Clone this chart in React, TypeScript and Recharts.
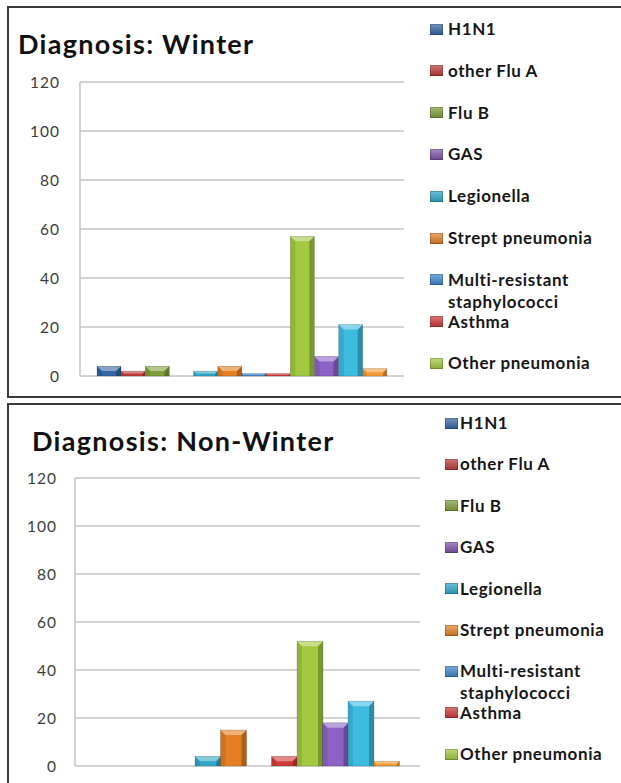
import { BarChart, Bar, Cell, XAxis, YAxis, CartesianGrid } from "recharts"

const FONT = "Lato, 'Open Sans', sans-serif"

// legend shows only the first nine diagnoses, the chart has twelve bar slots
const legendNames = [
  "H1N1",
  "other Flu A",
  "Flu B",
  "GAS",
  "Legionella",
  "Strept pneumonia",
  "Multi-resistant staphylococci",
  "Asthma",
  "Other pneumonia",
]
const slots = [1, 2, 3, 4, 5, 6, 7, 8, 9, 10, 11, 12]
const barColors = [
  "#3465a4",
  "#be3a36",
  "#7f9e3b",
  "#7d55a8",
  "#2fa6c8",
  "#e47f24",
  "#3f86cf",
  "#cf3a38",
  "#a3c940",
  "#8d62c6",
  "#3dbbe0",
  "#f39a32",
]
const winterCases = [4, 2, 4, 0, 2, 4, 1, 1, 57, 8, 21, 3]
const nonWinterCases = [0, 0, 0, 0, 4, 15, 0, 4, 52, 18, 27, 2]
const yTicks = [0, 20, 40, 60, 80, 100, 120]

function BevelBar(props: any) {
  const { x, y, width, height, fill } = props
  if (!height || height <= 0) return null
  const b = Math.min(5, height / 2, width / 4)
  const r = x + width
  const bt = y + height
  return (
    <g>
      <rect x={x} y={y} width={width} height={height} fill={fill} />
      <polygon points={`${x},${y} ${x + b},${y + b} ${x + b},${bt} ${x},${bt}`} fill="#000" fillOpacity={0.1} />
      <polygon points={`${r},${y} ${r - b},${y + b} ${r - b},${bt} ${r},${bt}`} fill="#000" fillOpacity={0.25} />
      <polygon points={`${x},${y} ${r},${y} ${r - b},${y + b} ${x + b},${y + b}`} fill="#fff" fillOpacity={0.4} />
      <rect x={x} y={y} width={width} height={height} fill="none" stroke="#000" strokeOpacity={0.25} strokeWidth={0.6} />
    </g>
  )
}

function LegendList({ squareLeft, textLeft, firstY, step }: any) {
  return (
    <>
      {legendNames.map((name, i) => (
        <div key={name} style={{ position: "absolute", left: squareLeft, top: firstY + i * step - 11, display: "flex" }}>
          <span
            style={{
              width: 13,
              height: 11,
              marginTop: 5.5,
              background: `linear-gradient(180deg, rgba(255,255,255,0.3), rgba(0,0,0,0.15)), ${barColors[i]}`,
              boxShadow: "inset 0 0 0 1px rgba(0,0,0,0.2)",
            }}
          />
          <span
            style={{
              marginLeft: textLeft - squareLeft - 13,
              width: 162,
              lineHeight: "22px",
              fontSize: 17,
              fontWeight: 700,
              letterSpacing: 0.6,
              color: "#161616",
            }}
          >
            {name}
          </span>
        </div>
      ))}
    </>
  )
}

function DiagnosisChart({ cases, top, height, margin, padding, tickMargin }: any) {
  const data = slots.map((slot, i) => ({ slot, cases: cases[i] }))
  return (
    <div style={{ position: "absolute", left: 0, top }}>
      <BarChart width={621} height={height} data={data} margin={margin} barCategoryGap={0}>
        <CartesianGrid vertical={false} stroke="#c4c4c4" strokeWidth={1.5} />
        <XAxis dataKey="slot" hide padding={padding} />
        <YAxis
          width={60}
          domain={[0, 120]}
          ticks={yTicks}
          tickLine={false}
          tickSize={0}
          tickMargin={tickMargin}
          axisLine={{ stroke: "#c4c4c4", strokeWidth: 1.5 }}
          tick={{ fill: "#3c3c3c", fontSize: 15.5, fontFamily: FONT, letterSpacing: 1 }}
        />
        <Bar dataKey="cases" shape={BevelBar} isAnimationActive={false}>
          {data.map((d, i) => (
            <Cell key={`c-${d.slot}`} fill={barColors[i]} />
          ))}
        </Bar>
      </BarChart>
    </div>
  )
}

const titleStyle: any = {
  position: "absolute",
  transform: "translateY(-50%)",
  lineHeight: 1,
  fontSize: 27,
  fontWeight: 700,
  letterSpacing: 1.3,
  color: "#111",
  whiteSpace: "nowrap",
}

export default function App() {
  return (
    <div
      style={{
        position: "absolute",
        left: 0,
        top: 0,
        width: 621,
        height: 783,
        overflow: "hidden",
        background: "#fff",
        fontFamily: FONT,
      }}
    >
      <div style={{ position: "absolute", left: 7, top: 6, width: 700, height: 392, boxSizing: "border-box", border: "2px solid #3a3a3a" }} />
      <div style={{ position: "absolute", left: 7, top: 403, width: 700, height: 500, boxSizing: "border-box", border: "2px solid #3a3a3a" }} />

      <div style={{ ...titleStyle, left: 18, top: 43 }}>Diagnosis: Winter</div>
      <DiagnosisChart
        cases={winterCases}
        top={0}
        height={400}
        margin={{ top: 82, right: 217, bottom: 24, left: 20 }}
        padding={{ left: 17, right: 17 }}
        tickMargin={20}
      />
      <LegendList squareLeft={430} textLeft={448} firstY={29} step={41.8} />

      <div style={{ ...titleStyle, left: 32, top: 440 }}>Diagnosis: Non-Winter</div>
      <DiagnosisChart
        cases={nonWinterCases}
        top={400}
        height={383}
        margin={{ top: 78, right: 201, bottom: 17, left: 15 }}
        padding={{ left: 18, right: 21 }}
        tickMargin={18}
      />
      <LegendList squareLeft={445} textLeft={460} firstY={423} step={41.4} />
    </div>
  )
}
